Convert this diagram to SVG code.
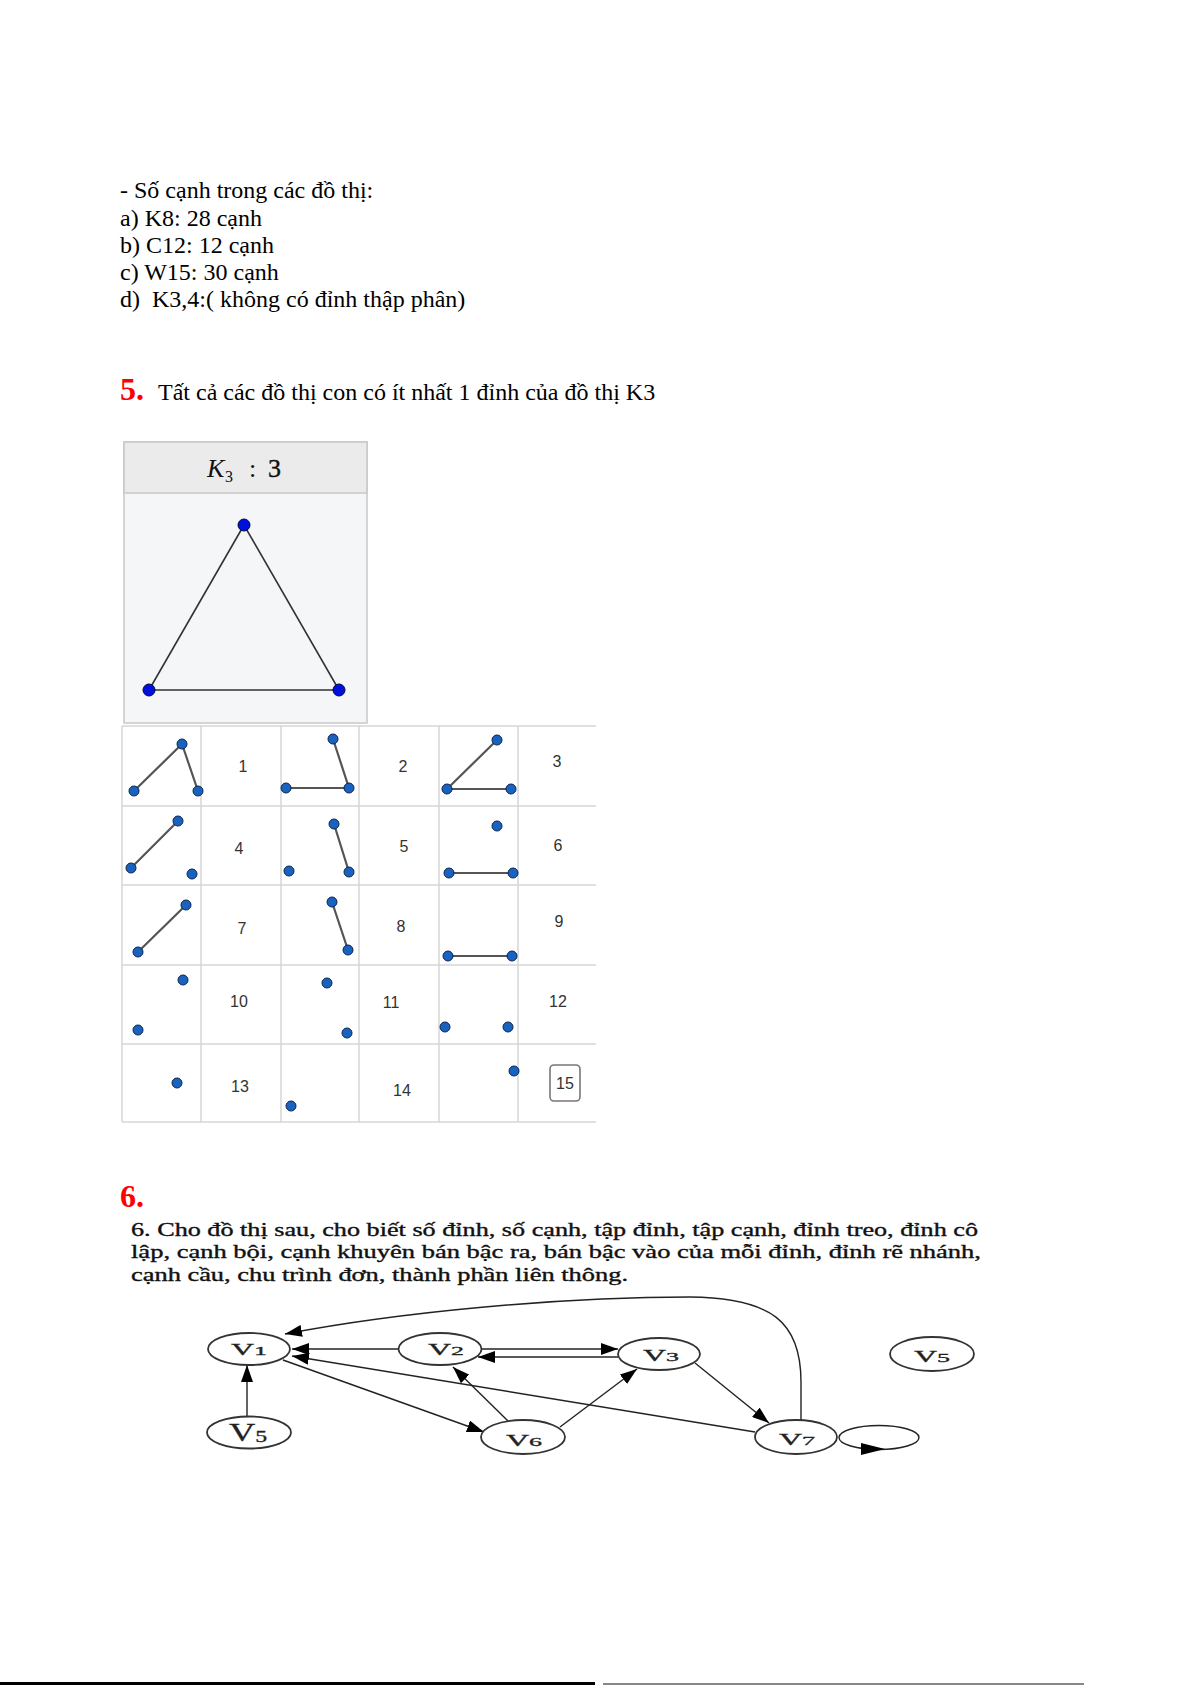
<svg xmlns="http://www.w3.org/2000/svg" width="1191" height="1685" viewBox="0 0 1191 1685">
<style>
.t{font-family:"Liberation Serif","Times New Roman",serif;font-size:24px;fill:#000;white-space:pre}
.red{font-family:"Liberation Serif","Times New Roman",serif;font-size:32px;font-weight:bold;fill:#ff0000}
.para{font-family:"Liberation Serif","Times New Roman",serif;font-size:18px;fill:#111;stroke:#111;stroke-width:0.35}
.gl{stroke:#d6d6d6;stroke-width:1.5}
.ge{stroke:#555;stroke-width:2.2;stroke-linecap:round}
.gd{fill:#1a62c0;stroke:#0b2550;stroke-width:1}
.num{font-family:"Liberation Sans",Arial,sans-serif;font-size:16px;fill:#333;text-anchor:middle}
.nd{fill:#fff;stroke:#333;stroke-width:1.8}
.lb{font-family:"Liberation Serif","Times New Roman",serif;fill:#222;text-anchor:middle;stroke:#222;stroke-width:0.3}
.e{fill:none;stroke:#222;stroke-width:1.4}
</style>
<defs>
<marker id="ah" markerUnits="userSpaceOnUse" markerWidth="18" markerHeight="12" refX="17" refY="6" orient="auto">
<path d="M0,0 L17,6 L0,12 z" fill="#000"/>
</marker>
</defs>
<rect x="0" y="0" width="1191" height="1685" fill="#fff"/>

<g id="text-block-4">
<text class="t" x="120" y="198">- Số cạnh trong các đồ thị:</text>
<text class="t" x="120" y="225.5">a) K8: 28 cạnh</text>
<text class="t" x="120" y="253">b) C12: 12 cạnh</text>
<text class="t" x="120" y="280">c) W15: 30 cạnh</text>
<text class="t" x="120" y="307">d)  K3,4:( không có đỉnh thập phân)</text>
</g>

<g id="heading-5">
<text class="red" x="120" y="400">5.</text>
<text class="t" x="158" y="400">Tất cả các đồ thị con có ít nhất 1 đỉnh của đồ thị K3</text>
</g>

<g id="k3-panel">
<rect x="124" y="442" width="243" height="281" fill="#f5f6f8" stroke="#c8c8c8" stroke-width="1.5"/>
<rect x="124" y="442" width="243" height="51" fill="#ebebec" stroke="#c8c8c8" stroke-width="1.5"/>
<text x="207" y="477" font-family="Liberation Serif,serif" font-size="26" font-style="italic" fill="#111">K</text>
<text x="225" y="482" font-family="Liberation Serif,serif" font-size="16" fill="#111">3</text>
<text x="249" y="477" font-family="Liberation Serif,serif" font-size="26" fill="#111">:</text>
<text x="268" y="477" font-family="Liberation Serif,serif" font-size="26" fill="#111" stroke="#111" stroke-width="0.4">3</text>
<g stroke="#333" stroke-width="1.6" fill="none">
<path d="M244,525 L149,690 L339,690 Z"/>
</g>
<g fill="#0010dd" stroke="#000840" stroke-width="1">
<circle cx="244" cy="525" r="6"/>
<circle cx="149" cy="690" r="6"/>
<circle cx="339" cy="690" r="6"/>
</g>
</g>

<g id="subgraph-table">
<g class="gl">
<line x1="122" y1="726" x2="596" y2="726"/>
<line x1="122" y1="806" x2="596" y2="806"/>
<line x1="122" y1="885" x2="596" y2="885"/>
<line x1="122" y1="965" x2="596" y2="965"/>
<line x1="122" y1="1044" x2="596" y2="1044"/>
<line x1="122" y1="1122" x2="596" y2="1122"/>
<line x1="122" y1="726" x2="122" y2="1122"/>
<line x1="201" y1="726" x2="201" y2="1122"/>
<line x1="281" y1="726" x2="281" y2="1122"/>
<line x1="359" y1="726" x2="359" y2="1122"/>
<line x1="439" y1="726" x2="439" y2="1122"/>
<line x1="518" y1="726" x2="518" y2="1122"/>
</g>
<g class="ge">
<line x1="134" y1="791" x2="182" y2="744"/>
<line x1="182" y1="744" x2="198" y2="791"/>
<line x1="333" y1="739" x2="349" y2="788"/>
<line x1="286" y1="788" x2="349" y2="788"/>
<line x1="447" y1="789" x2="497" y2="740"/>
<line x1="447" y1="789" x2="511" y2="789"/>
<line x1="131" y1="868" x2="178" y2="821"/>
<line x1="334" y1="824" x2="349" y2="872"/>
<line x1="449" y1="873" x2="513" y2="873"/>
<line x1="138" y1="952" x2="186" y2="905"/>
<line x1="332" y1="902" x2="348" y2="950"/>
<line x1="448" y1="956" x2="512" y2="956"/>
</g>
<g class="gd">
<circle cx="134" cy="791" r="5"/><circle cx="182" cy="744" r="5"/><circle cx="198" cy="791" r="5"/>
<circle cx="333" cy="739" r="5"/><circle cx="286" cy="788" r="5"/><circle cx="349" cy="788" r="5"/>
<circle cx="497" cy="740" r="5"/><circle cx="447" cy="789" r="5"/><circle cx="511" cy="789" r="5"/>
<circle cx="178" cy="821" r="5"/><circle cx="131" cy="868" r="5"/><circle cx="192" cy="874" r="5"/>
<circle cx="334" cy="824" r="5"/><circle cx="289" cy="871" r="5"/><circle cx="349" cy="872" r="5"/>
<circle cx="497" cy="826" r="5"/><circle cx="449" cy="873" r="5"/><circle cx="513" cy="873" r="5"/>
<circle cx="186" cy="905" r="5"/><circle cx="138" cy="952" r="5"/>
<circle cx="332" cy="902" r="5"/><circle cx="348" cy="950" r="5"/>
<circle cx="448" cy="956" r="5"/><circle cx="512" cy="956" r="5"/>
<circle cx="183" cy="980" r="5"/><circle cx="138" cy="1030" r="5"/>
<circle cx="327" cy="983" r="5"/><circle cx="347" cy="1033" r="5"/>
<circle cx="445" cy="1027" r="5"/><circle cx="508" cy="1027" r="5"/>
<circle cx="177" cy="1083" r="5"/>
<circle cx="291" cy="1106" r="5"/>
<circle cx="514" cy="1071" r="5"/>
</g>
<g>
<text class="num" x="243" y="772">1</text>
<text class="num" x="403" y="772">2</text>
<text class="num" x="557" y="767">3</text>
<text class="num" x="239" y="854">4</text>
<text class="num" x="404" y="852">5</text>
<text class="num" x="558" y="851">6</text>
<text class="num" x="242" y="934">7</text>
<text class="num" x="401" y="932">8</text>
<text class="num" x="559" y="927">9</text>
<text class="num" x="239" y="1007">10</text>
<text class="num" x="391" y="1008">11</text>
<text class="num" x="558" y="1007">12</text>
<text class="num" x="240" y="1092">13</text>
<text class="num" x="402" y="1096">14</text>
<rect x="550" y="1065" width="30" height="36" rx="4" fill="#fff" stroke="#777" stroke-width="1.6"/>
<text class="num" x="565" y="1089">15</text>
</g>
</g>

<g id="heading-6">
<text class="red" x="120" y="1207">6.</text>
<text class="para" x="131" y="1236" textLength="847" lengthAdjust="spacingAndGlyphs">6. Cho đồ thị sau, cho biết số đỉnh, số cạnh, tập đỉnh, tập cạnh, đỉnh treo, đỉnh cô</text>
<text class="para" x="131" y="1258" textLength="850" lengthAdjust="spacingAndGlyphs">lập, cạnh bội, cạnh khuyên bán bậc ra, bán bậc vào của mỗi đỉnh, đỉnh rẽ nhánh,</text>
<text class="para" x="131" y="1281" textLength="497" lengthAdjust="spacingAndGlyphs">cạnh cầu, chu trình đơn, thành phần liên thông.</text>
</g>

<g id="connectors">
<path class="e" d="M801,1421 L801,1382 C801,1322 772,1298 690,1297 C560,1297 400,1312 285,1334" marker-end="url(#ah)"/>
<line class="e" x1="398" y1="1349" x2="292" y2="1349" stroke="#777" marker-end="url(#ah)"/>
<line class="e" x1="482" y1="1349" x2="618" y2="1349" marker-end="url(#ah)"/>
<line class="e" x1="618" y1="1357" x2="478" y2="1357" marker-end="url(#ah)"/>
<line class="e" x1="247" y1="1416" x2="247" y2="1365" marker-end="url(#ah)"/>
<line class="e" x1="283" y1="1360" x2="484" y2="1432" marker-end="url(#ah)"/>
<line class="e" x1="508" y1="1421" x2="453" y2="1367" marker-end="url(#ah)"/>
<line class="e" x1="560" y1="1427" x2="637" y2="1369" marker-end="url(#ah)"/>
<line class="e" x1="755" y1="1432" x2="292" y2="1356" marker-end="url(#ah)"/>
<line class="e" x1="695" y1="1363" x2="769" y2="1423" marker-end="url(#ah)"/>
<ellipse class="e" cx="879" cy="1437.5" rx="40" ry="12"/>
<polygon points="861,1443 861,1455 885,1449" fill="#000"/>
</g>

<g id="node-v1">
<ellipse class="nd" cx="249" cy="1349" rx="41" ry="16"/>
<text class="lb" style="font-size:16px" transform="translate(249,1355) scale(2,1)">V<tspan style="font-size:13px">1</tspan></text>
</g>
<g id="node-v2">
<ellipse class="nd" cx="440" cy="1349" rx="41.5" ry="16"/>
<text class="lb" style="font-size:16px" transform="translate(446,1355) scale(2,1)">V<tspan style="font-size:13px">2</tspan></text>
</g>
<g id="node-v3">
<ellipse class="nd" cx="659" cy="1354" rx="41" ry="16"/>
<text class="lb" style="font-size:16px" transform="translate(661,1361) scale(2,1)">V<tspan style="font-size:13px">3</tspan></text>
</g>
<g id="node-v5-left">
<ellipse class="nd" cx="249" cy="1432.5" rx="42" ry="16"/>
<text class="lb" style="font-size:26px" transform="translate(248,1441) scale(1.4,1)">V<tspan style="font-size:17px" dy="1">5</tspan></text>
</g>
<g id="node-v6">
<ellipse class="nd" cx="523" cy="1437" rx="42" ry="17"/>
<text class="lb" style="font-size:16px" transform="translate(524,1446) scale(2,1)">V<tspan style="font-size:13px">6</tspan></text>
</g>
<g id="node-v7">
<ellipse class="nd" cx="796" cy="1437" rx="41" ry="17"/>
<text class="lb" style="font-size:16px" transform="translate(797,1445) scale(2,1)">V<tspan style="font-size:13px">7</tspan></text>
</g>
<g id="node-v5-right">
<ellipse class="nd" cx="932" cy="1354" rx="42" ry="17"/>
<text class="lb" style="font-size:16px" transform="translate(932,1362) scale(2,1)">V<tspan style="font-size:13px">5</tspan></text>
</g>

<g id="page-edge">
<rect x="0" y="1682" width="595" height="3" fill="#000"/>
<rect x="603" y="1683" width="481" height="2" fill="#888"/>
</g>
</svg>
